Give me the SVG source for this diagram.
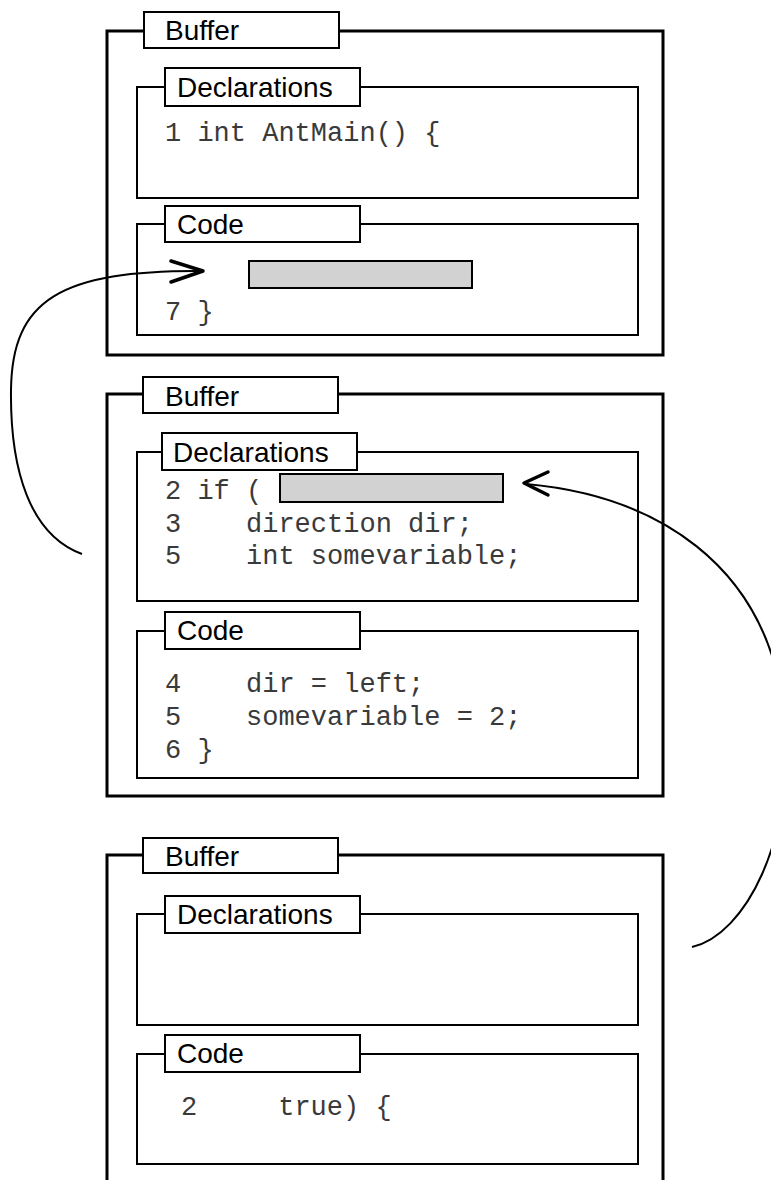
<svg xmlns="http://www.w3.org/2000/svg" width="771" height="1180" viewBox="0 0 771 1180">
  <style>
    .frame { fill: #fff; stroke: #000; stroke-width: 3; }
    .box { fill: #fff; stroke: #000; stroke-width: 2; }
    .tab { fill: #fff; stroke: #000; stroke-width: 2; }
    .hole { fill: #d2d2d2; stroke: #000; stroke-width: 2; }
    .label { font-family: "Liberation Sans", Arial, sans-serif; font-size: 28px; fill: #000; }
    .code { font-family: "Liberation Mono", "Courier New", monospace; font-size: 27px; fill: #3a3a3a; white-space: pre; }
    .link { fill: none; stroke: #000; stroke-width: 2; }
    .head { fill: none; stroke: #000; stroke-width: 3.5; stroke-linecap: round; stroke-linejoin: round; }
  </style>

  <rect width="771" height="1180" fill="#fff"/>

  <!-- first buffer -->
  <g id="buffer1">
    <rect class="frame" x="107" y="31" width="556" height="324"/>
    <rect class="tab" x="144" y="12" width="195" height="36"/>
    <text class="label" x="165" y="40">Buffer</text>
    <g id="buffer1-declarations">
      <rect class="box" x="137" y="87" width="501" height="111"/>
      <rect class="tab" x="165" y="68" width="195" height="38"/>
      <text class="label" x="177" y="97">Declarations</text>
      <text class="code" x="165" y="141">1 int AntMain() {</text>
    </g>
    <g id="buffer1-code">
      <rect class="box" x="137" y="224" width="501" height="111"/>
      <rect class="tab" x="165" y="206" width="195" height="36"/>
      <text class="label" x="177" y="234">Code</text>
      <rect class="hole" x="249" y="261" width="223" height="27"/>
      <text class="code" x="165" y="320">7 }</text>
    </g>
  </g>

  <!-- second buffer -->
  <g id="buffer2">
    <rect class="frame" x="107" y="394" width="556" height="402"/>
    <rect class="tab" x="143" y="377" width="195" height="36"/>
    <text class="label" x="165" y="406">Buffer</text>
    <g id="buffer2-declarations">
      <rect class="box" x="137" y="452" width="501" height="149"/>
      <rect class="tab" x="162" y="433" width="195" height="37"/>
      <text class="label" x="173" y="462">Declarations</text>
      <text class="code" x="165" y="499">2 if (</text>
      <rect class="hole" x="280" y="474" width="223" height="28"/>
      <text class="code" x="165" y="532">3    direction dir;</text>
      <text class="code" x="165" y="564">5    int somevariable;</text>
    </g>
    <g id="buffer2-code">
      <rect class="box" x="137" y="631" width="501" height="147"/>
      <rect class="tab" x="165" y="612" width="195" height="37"/>
      <text class="label" x="177" y="640">Code</text>
      <text class="code" x="165" y="692">4    dir = left;</text>
      <text class="code" x="165" y="725">5    somevariable = 2;</text>
      <text class="code" x="165" y="758">6 }</text>
    </g>
  </g>

  <!-- third buffer (runs past the bottom edge) -->
  <g id="buffer3">
    <path class="frame" d="M107 1185 V855 H663 V1185" fill="none"/>
    <rect class="tab" x="143" y="838" width="195" height="35"/>
    <text class="label" x="165" y="866">Buffer</text>
    <g id="buffer3-declarations">
      <rect class="box" x="137" y="914" width="501" height="111"/>
      <rect class="tab" x="165" y="896" width="195" height="37"/>
      <text class="label" x="177" y="924">Declarations</text>
    </g>
    <g id="buffer3-code">
      <rect class="box" x="137" y="1054" width="501" height="110"/>
      <rect class="tab" x="165" y="1035" width="195" height="37"/>
      <text class="label" x="177" y="1063">Code</text>
      <text class="code" x="181" y="1115">2     true) {</text>
    </g>
  </g>

  <!-- connectors -->
  <g id="connectors">
    <path class="link" d="M82 554 C30 535 10 470 11 390 C12 300 60 270 203 271"/>
    <path class="head" d="M171 261 L203 271 L171 282"/>
    <path class="link" d="M526 484 C650 495 770 560 785 720 C795 840 745 935 692 947"/>
    <path class="head" d="M548 472 L524 483 L548 495"/>
  </g>
</svg>
